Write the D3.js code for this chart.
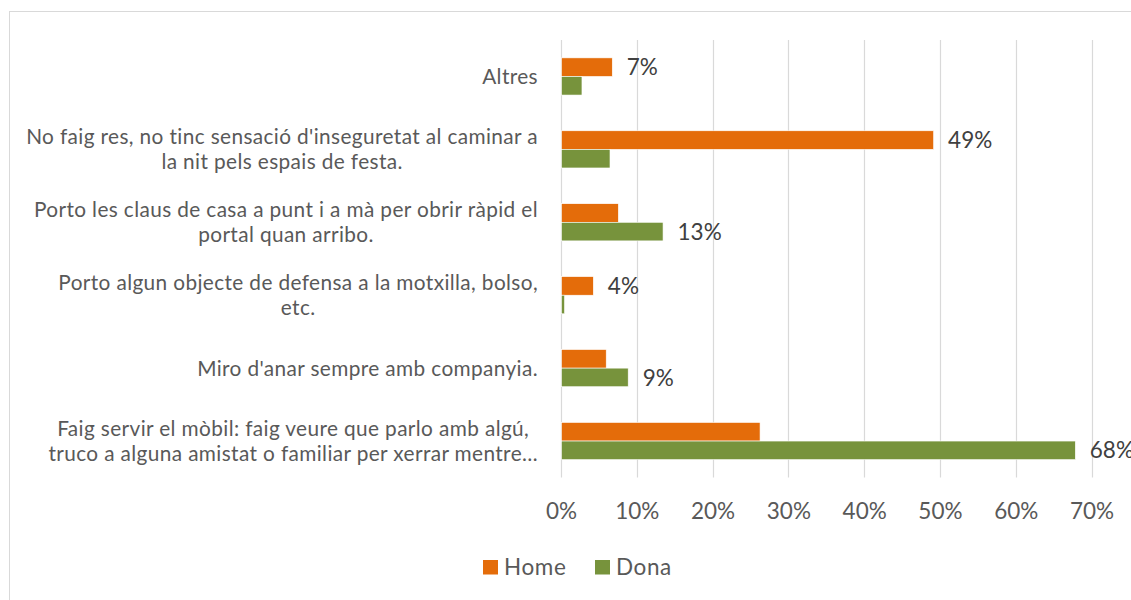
<!DOCTYPE html>
<html>
<head>
<meta charset="utf-8">
<script src="https://cdn.jsdelivr.net/npm/d3@7"></script>
<style>
  html, body { margin: 0; padding: 0; background: #ffffff; }
  svg { display: block; }
</style>
</head>
<body>
<svg id="chart" width="1131" height="600"></svg>
<script>
// ---- Data ----
const categories = [
  "Altres",
  "No faig res, no tinc sensació d'inseguretat al caminar a la nit pels espais de festa.",
  "Porto les claus de casa a punt i a mà per obrir ràpid el portal quan arribo.",
  "Porto algun objecte de defensa a la motxilla, bolso, etc.",
  "Miro d'anar sempre amb companyia.",
  "Faig servir el mòbil: faig veure que parlo amb algú, truco a alguna amistat o familiar per xerrar mentre…"
];
const categoryLines = [
  ["Altres"],
  ["No faig res, no tinc sensació d'inseguretat al caminar a", "la nit pels espais de festa."],
  ["Porto les claus de casa a punt i a mà per obrir ràpid el", "portal quan arribo."],
  ["Porto algun objecte de defensa a la motxilla, bolso,", "etc."],
  ["Miro d'anar sempre amb companyia."],
  ["Faig servir el mòbil: faig veure que parlo amb algú,", "truco a alguna amistat o familiar per xerrar mentre…"]
];
const seriesNames = ["Home", "Dona"];
const homeValues = [0.067, 0.491, 0.075, 0.042, 0.059, 0.262];
const donaValues = [0.027, 0.064, 0.134, 0.004, 0.088, 0.678];
const tickValues = [0, 0.1, 0.2, 0.3, 0.4, 0.5, 0.6, 0.7];
const tickLabels = ["0%", "10%", "20%", "30%", "40%", "50%", "60%", "70%"];
const seriesColors = ["#E46C0A", "#77933C"];

// ---- Layout ----
const svg = d3.select("#chart");
const FONT = "Lato, 'Open Sans', sans-serif";
const textColor = "#595959";
const gridColor = "#D9D9D9";

// chart frame
svg.append("rect")
  .attr("x", 9.5).attr("y", 11.5)
  .attr("width", 1140).attr("height", 620)
  .attr("fill", "#ffffff")
  .attr("stroke", gridColor).attr("stroke-width", 1);

const plot = { left: 561, right: 1091.5, top: 40, bottom: 477.5 };

const x = d3.scaleLinear().domain([0, 0.7]).range([plot.left, plot.right]);
const y = d3.scaleBand().domain(categories).range([plot.top, plot.bottom])
  .paddingInner(0.49).paddingOuter(0.245);
const ySub = d3.scaleBand().domain(seriesNames).range([0, y.bandwidth()]);

// gridlines
svg.append("g").selectAll("line").data(tickValues).join("line")
  .attr("x1", d => Math.round(x(d)) + 0.5).attr("x2", d => Math.round(x(d)) + 0.5)
  .attr("y1", plot.top).attr("y2", plot.bottom)
  .attr("stroke", gridColor).attr("stroke-width", 1.2);

// x axis tick labels via d3 axis
const xAxis = d3.axisBottom(x).tickValues(tickValues)
  .tickFormat((d, i) => tickLabels[i]).tickSize(0).tickPadding(0);
const gx = svg.append("g").attr("transform", `translate(0, ${plot.bottom + 26})`).call(xAxis);
gx.select(".domain").remove();
gx.selectAll("text")
  .attr("font-family", FONT).attr("font-size", 22.5)
  .attr("fill", textColor).attr("dy", "0.71em");

// bars
const seriesData = seriesNames.map((name, si) => ({
  name, color: seriesColors[si],
  values: (si === 0 ? homeValues : donaValues).map((v, ci) => ({ cat: categories[ci], v }))
}));

seriesData.forEach(s => {
  svg.append("g").selectAll("rect").data(s.values).join("rect")
    .attr("x", x(0) + 0.5)
    .attr("y", d => y(d.cat) + ySub(s.name))
    .attr("width", d => Math.max(0, x(d.v) - x(0)))
    .attr("height", ySub.bandwidth())
    .attr("fill", s.color)
    .attr("stroke", "#ffffff").attr("stroke-width", 0.6);
});

// data labels (shown on the larger bar of each category, as in the original)
const labelData = categories.map((c, i) => {
  const h = homeValues[i], dn = donaValues[i];
  const s = h >= dn ? "Home" : "Dona";
  return { cat: c, series: s, v: Math.max(h, dn) };
});
svg.append("g").selectAll("text").data(labelData).join("text")
  .attr("x", d => x(d.v) + 15)
  .attr("y", d => y(d.cat) + ySub(d.series) + ySub.bandwidth() / 2)
  .attr("dy", "0.36em")
  .attr("font-family", FONT).attr("font-size", 22.5)
  .attr("fill", "#404040")
  .text(d => Math.round(d.v * 100) + "%");

// category labels
const labelRight = 538;
const lineH = 25;
const catG = svg.append("g");
categories.forEach((c, i) => {
  const lines = categoryLines[i];
  const cy = y(c) + y.bandwidth() / 2;
  const g = catG.append("g");
  const texts = lines.map((ln, li) => g.append("text")
    .attr("font-family", FONT).attr("font-size", 20.8)
    .attr("letter-spacing", 0.38)
    .attr("fill", textColor)
    .attr("y", cy + (li - (lines.length - 1) / 2) * lineH)
    .attr("dy", "0.36em")
    .text(ln));
  if (lines.length === 1) {
    texts[0].attr("x", labelRight).attr("text-anchor", "end");
  } else {
    const maxW = d3.max(texts, t => t.node().getComputedTextLength());
    const cx = labelRight - maxW / 2;
    texts.forEach(t => t.attr("x", cx).attr("text-anchor", "middle"));
  }
});

// legend
const legendItems = [
  { name: "Home", color: seriesColors[0], x: 483 },
  { name: "Dona", color: seriesColors[1], x: 595 }
];
const lg = svg.append("g");
legendItems.forEach(it => {
  lg.append("rect").attr("x", it.x).attr("y", 560).attr("width", 15).attr("height", 14.5)
    .attr("fill", it.color);
  lg.append("text").attr("x", it.x + 21).attr("y", 567).attr("dy", "0.36em")
    .attr("font-family", FONT).attr("font-size", 22.5).attr("letter-spacing", 0.6)
    .attr("fill", textColor)
    .text(it.name);
});
</script>
</body>
</html>
